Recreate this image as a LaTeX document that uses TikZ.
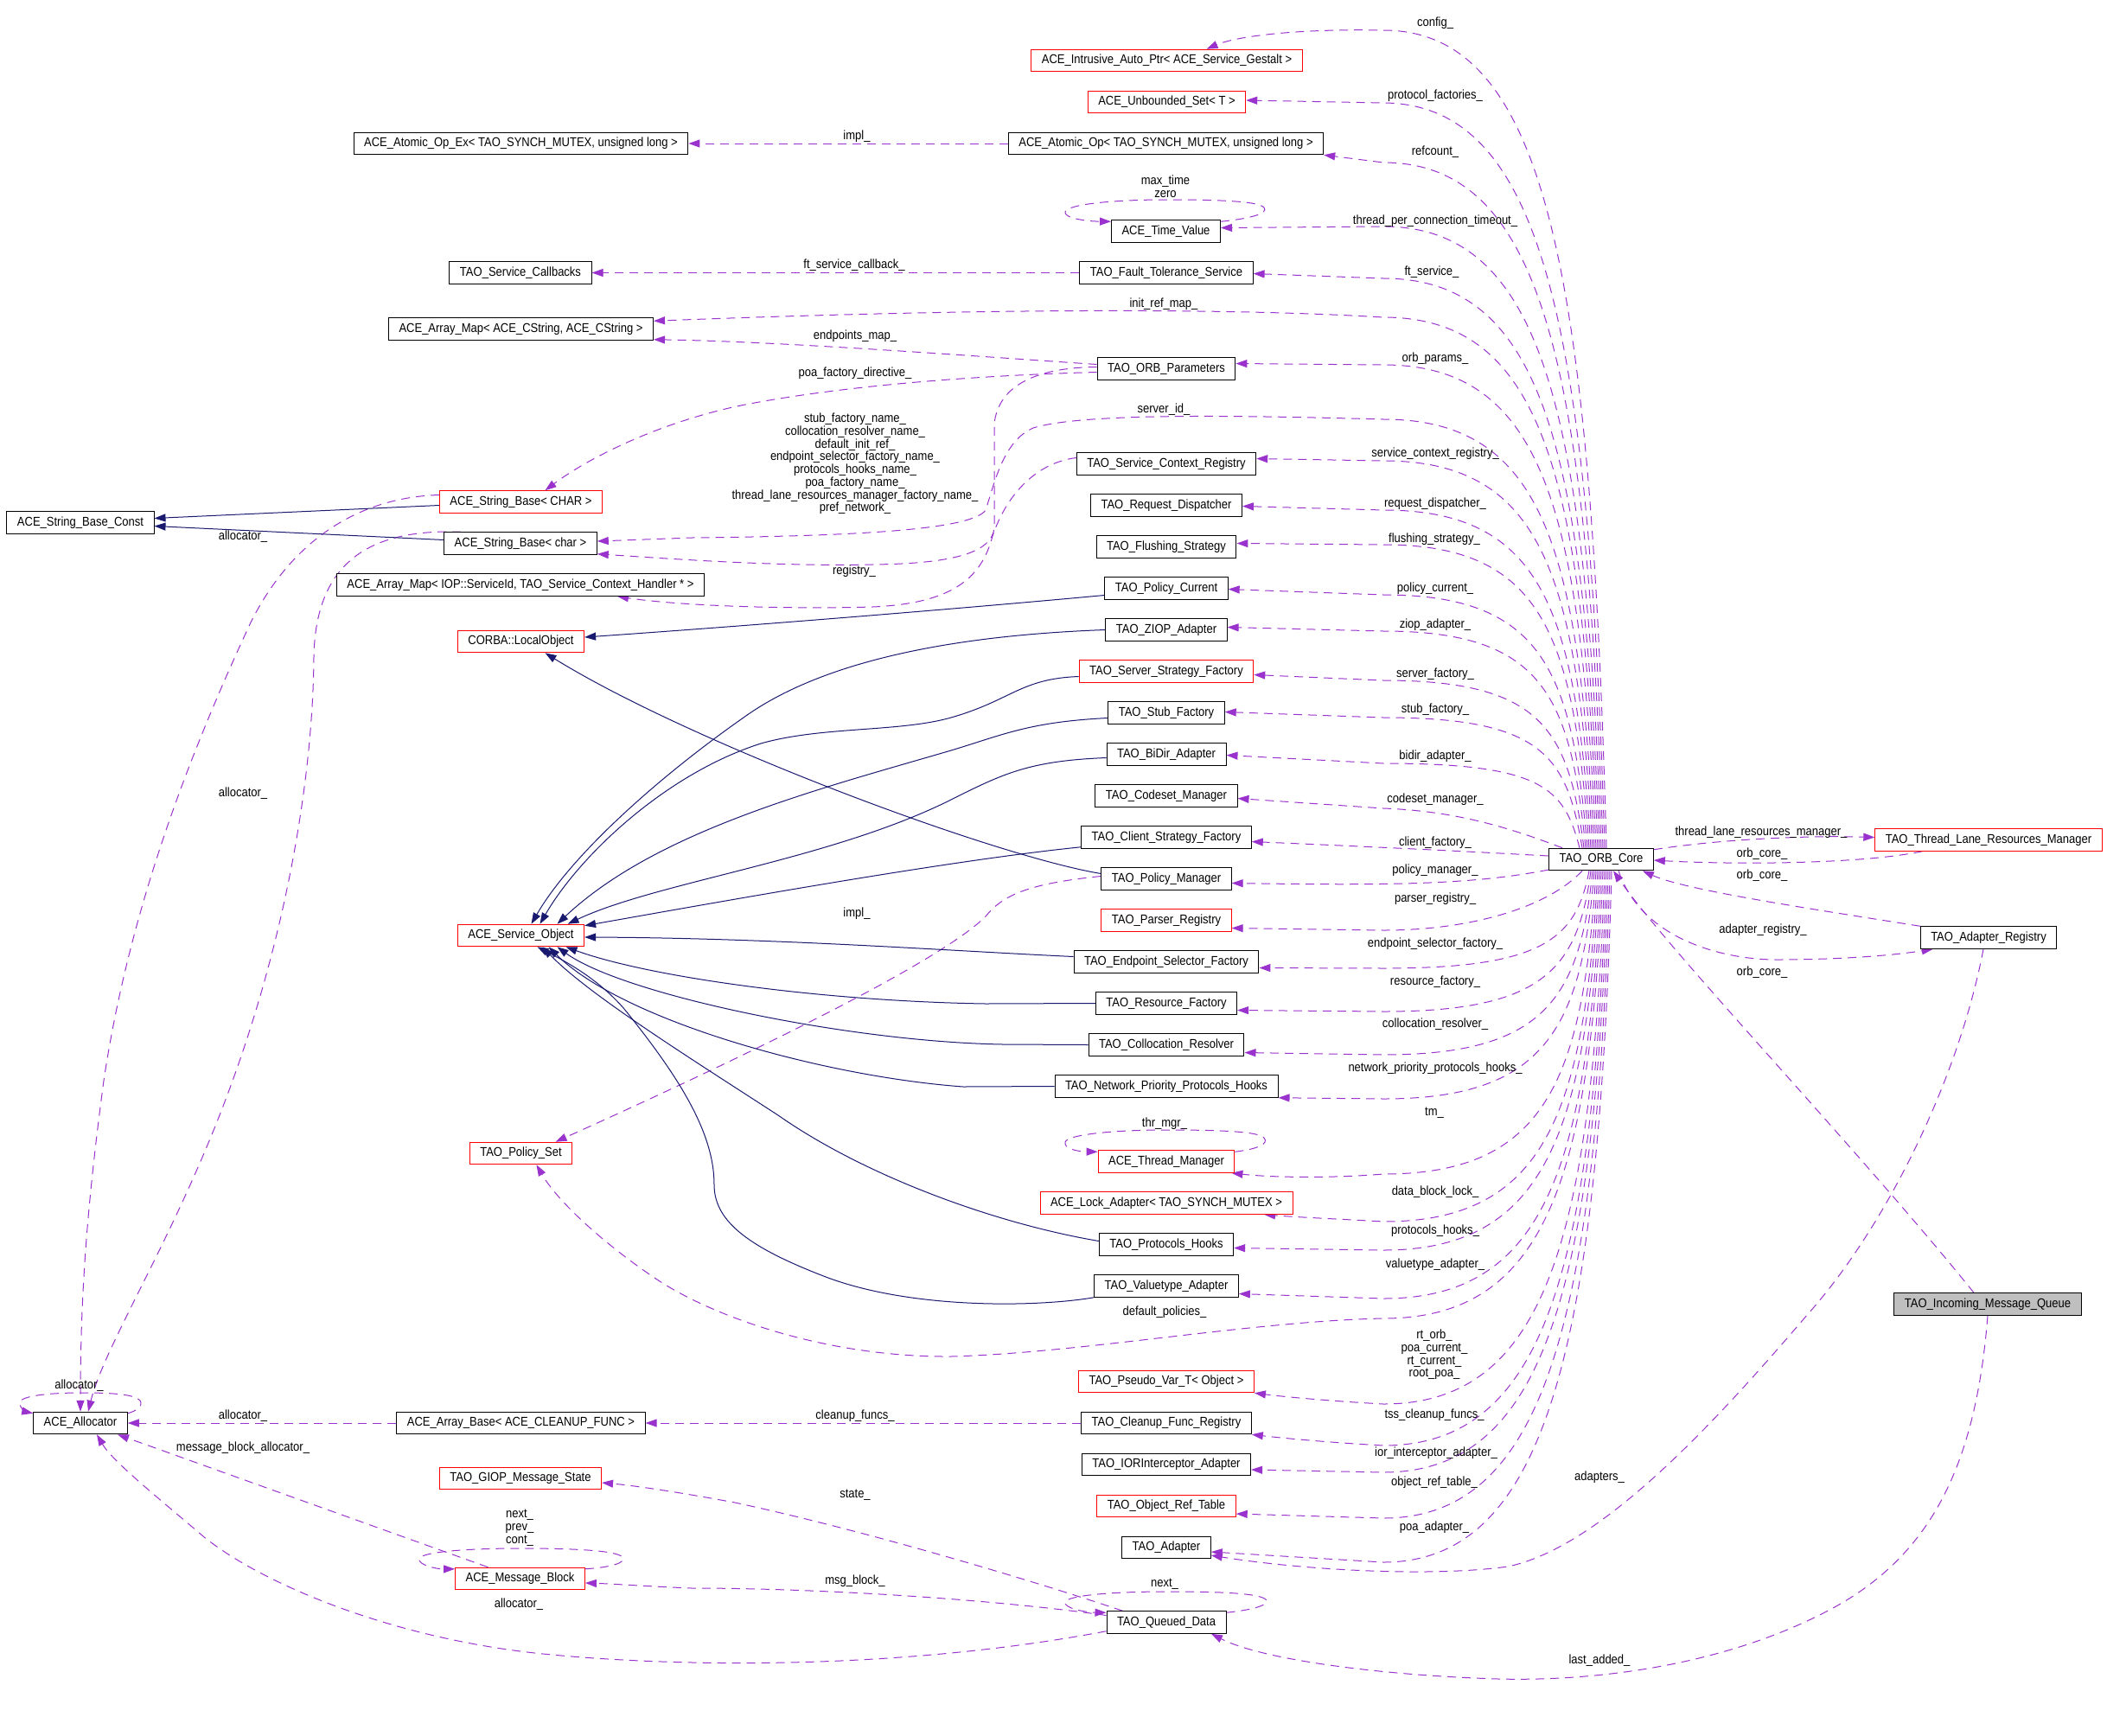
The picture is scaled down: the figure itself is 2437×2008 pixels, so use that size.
\documentclass[tikz,border=0pt]{standalone}
\usepackage{fontspec}
\setmainfont{Liberation Sans}[FakeStretch=0.885]
\usetikzlibrary{arrows.meta,calc}
\definecolor{dcol}{HTML}{9A32CD}
\definecolor{icol}{HTML}{191970}
\definecolor{gfill}{HTML}{BFBFBF}
\newcommand\lbf{\fontsize{14.7}{14.7}\selectfont}
\pgfdeclarelayer{bg}
\pgfsetlayers{bg,main}
\begin{document}
\begin{tikzpicture}[x=1pt,y=-1pt,
  cbox/.style={draw=black,line width=1pt,inner xsep=12pt,inner ysep=0pt,minimum height=25.5pt,font=\lbf,fill=white},
  rbox/.style={cbox,draw=red},
  dep/.style={draw=dcol,line width=1pt,dash pattern=on 10pt off 7pt,-{Triangle[length=13pt,width=9pt]}},
  inh/.style={draw=icol,line width=1pt,-{Triangle[length=13pt,width=9pt]}},
  lbl/.style={font=\lbf,inner sep=0pt,align=center}]
\useasboundingbox (0,0) rectangle (2437,2008);
% ---------------- nodes
\node[rbox] (intr) at (1349.5,70) {ACE\_Intrusive\_Auto\_Ptr< ACE\_Service\_Gestalt >};
\node[rbox] (us) at (1349.5,118) {ACE\_Unbounded\_Set< T >};
\node[cbox] (aop) at (1348.5,166) {ACE\_Atomic\_Op< TAO\_SYNCH\_MUTEX, unsigned long >};
\node[cbox] (aopex) at (602.5,166) {ACE\_Atomic\_Op\_Ex< TAO\_SYNCH\_MUTEX, unsigned long >};
\node[cbox] (tv) at (1348.5,267.5) {ACE\_Time\_Value};
\node[cbox] (scb) at (602,315.5) {TAO\_Service\_Callbacks};
\node[cbox] (fts) at (1349,315.5) {TAO\_Fault\_Tolerance\_Service};
\node[cbox] (amc) at (602.5,380.5) {ACE\_Array\_Map< ACE\_CString, ACE\_CString >};
\node[cbox] (opar) at (1349,426.5) {TAO\_ORB\_Parameters};
\node[cbox] (scr) at (1349,536.5) {TAO\_Service\_Context\_Registry};
\node[rbox] (sbC) at (602.5,580.5) {ACE\_String\_Base< CHAR >};
\node[cbox] (rd) at (1349,584.5) {TAO\_Request\_Dispatcher};
\node[cbox] (sbconst) at (93,604.5) {ACE\_String\_Base\_Const};
\node[cbox] (sbc) at (602,628.5) {ACE\_String\_Base< char >};
\node[cbox] (fs) at (1349,632.5) {TAO\_Flushing\_Strategy};
\node[cbox] (amiop) at (602,676.5) {ACE\_Array\_Map< IOP::ServiceId, TAO\_Service\_Context\_Handler * >};
\node[cbox] (pc) at (1349,680.5) {TAO\_Policy\_Current};
\node[cbox] (ziop) at (1349,728.5) {TAO\_ZIOP\_Adapter};
\node[rbox] (lo) at (602.5,742) {CORBA::LocalObject};
\node[rbox] (ssf) at (1349,776.5) {TAO\_Server\_Strategy\_Factory};
\node[cbox] (stub) at (1349,824.5) {TAO\_Stub\_Factory};
\node[cbox] (bidir) at (1349,872.5) {TAO\_BiDir\_Adapter};
\node[cbox] (cm) at (1349,920.5) {TAO\_Codeset\_Manager};
\node[rbox] (tlrm) at (2300,971.5) {TAO\_Thread\_Lane\_Resources\_Manager};
\node[cbox] (csf) at (1349,968.5) {TAO\_Client\_Strategy\_Factory};
\node[cbox] (orb) at (1852,994) {TAO\_ORB\_Core};
\node[cbox] (pm) at (1349,1016.5) {TAO\_Policy\_Manager};
\node[rbox] (pr) at (1349,1064.5) {TAO\_Parser\_Registry};
\node[rbox] (so) at (602.5,1082) {ACE\_Service\_Object};
\node[cbox] (ar) at (2300,1084.5) {TAO\_Adapter\_Registry};
\node[cbox] (esf) at (1349,1112.5) {TAO\_Endpoint\_Selector\_Factory};
\node[cbox] (rf) at (1349,1160.5) {TAO\_Resource\_Factory};
\node[cbox] (cr) at (1349,1208.5) {TAO\_Collocation\_Resolver};
\node[cbox] (nph) at (1349,1256.5) {TAO\_Network\_Priority\_Protocols\_Hooks};
\node[rbox] (ps) at (602.5,1334) {TAO\_Policy\_Set};
\node[rbox] (thm) at (1349,1343.5) {ACE\_Thread\_Manager};
\node[rbox] (la) at (1349,1391.5) {ACE\_Lock\_Adapter< TAO\_SYNCH\_MUTEX >};
\node[cbox] (ph) at (1349,1439.5) {TAO\_Protocols\_Hooks};
\node[cbox] (va) at (1349,1487.5) {TAO\_Valuetype\_Adapter};
\node[cbox,fill=gfill] (imq) at (2299,1508.5) {TAO\_Incoming\_Message\_Queue};
\node[rbox] (pv) at (1349,1598) {TAO\_Pseudo\_Var\_T< Object >};
\node[cbox] (alloc) at (93,1646) {ACE\_Allocator};
\node[cbox] (ab) at (602.5,1646) {ACE\_Array\_Base< ACE\_CLEANUP\_FUNC >};
\node[cbox] (cfr) at (1349,1646) {TAO\_Cleanup\_Func\_Registry};
\node[cbox] (ior) at (1349,1694) {TAO\_IORInterceptor\_Adapter};
\node[rbox] (gms) at (602,1710) {TAO\_GIOP\_Message\_State};
\node[rbox] (ort) at (1349,1742) {TAO\_Object\_Ref\_Table};
\node[cbox] (ta) at (1349,1790) {TAO\_Adapter};
\node[rbox] (mb) at (601.5,1826) {ACE\_Message\_Block};
\node[cbox] (qd) at (1349,1876.5) {TAO\_Queued\_Data};
% ---------------- labels
\node[lbl] (lcfg) at (1660,27) {config\_};
\node[lbl] (lpf) at (1660,111) {protocol\_factories\_};
\node[lbl] (lrc) at (1660,176) {refcount\_};
\node[lbl] (ltpc) at (1660,256) {thread\_per\_connection\_timeout\_};
\node[lbl] (lfts) at (1656,315) {ft\_service\_};
\node[lbl] (lirm) at (1346,352) {init\_ref\_map\_};
\node[lbl] (lop) at (1660,415) {orb\_params\_};
\node[lbl] (lsid) at (1346,474) {server\_id\_};
\node[lbl] (lscr) at (1660,525) {service\_context\_registry\_};
\node[lbl] (lrd) at (1660,583) {request\_dispatcher\_};
\node[lbl] (lfs) at (1659,624) {flushing\_strategy\_};
\node[lbl] (lpc) at (1660,681) {policy\_current\_};
\node[lbl] (lzp) at (1660,723) {ziop\_adapter\_};
\node[lbl] (lsf) at (1660,780) {server\_factory\_};
\node[lbl] (lstf) at (1660,821) {stub\_factory\_};
\node[lbl] (lbd) at (1660,875) {bidir\_adapter\_};
\node[lbl] (lcm) at (1660,925) {codeset\_manager\_};
\node[lbl] (lcf) at (1660,975) {client\_factory\_};
\node[lbl] (lpm) at (1660,1007) {policy\_manager\_};
\node[lbl] (lpr) at (1660,1040) {parser\_registry\_};
\node[lbl] (lesf) at (1660,1092) {endpoint\_selector\_factory\_};
\node[lbl] (lrf) at (1660,1136) {resource\_factory\_};
\node[lbl] (lcr) at (1660,1185) {collocation\_resolver\_};
\node[lbl] (lnph) at (1660,1236) {network\_priority\_protocols\_hooks\_};
\node[lbl] (ltm) at (1659,1287) {tm\_};
\node[lbl] (ldbl) at (1660,1379) {data\_block\_lock\_};
\node[lbl] (lph) at (1660,1424) {protocols\_hooks\_};
\node[lbl] (lva) at (1660,1463) {valuetype\_adapter\_};
\node[lbl] (ldp) at (1347,1518) {default\_policies\_};
\node[lbl] (lrt) at (1659,1567) {rt\_orb\_\\poa\_current\_\\rt\_current\_\\root\_poa\_};
\node[lbl] (ltss) at (1659,1637) {tss\_cleanup\_funcs\_};
\node[lbl] (lior) at (1661,1681) {ior\_interceptor\_adapter\_};
\node[lbl] (lort) at (1659,1715) {object\_ref\_table\_};
\node[lbl] (lpoa) at (1659,1767) {poa\_adapter\_};
\node[lbl] (lads) at (1850,1709) {adapters\_};
\node[lbl] (lla) at (1850,1921) {last\_added\_};
\node[lbl] (ltlrm) at (2037,963) {thread\_lane\_resources\_manager\_};
\node[lbl] (loc1) at (2038,988) {orb\_core\_};
\node[lbl] (loc2) at (2038,1013) {orb\_core\_};
\node[lbl] (lar) at (2039,1076) {adapter\_registry\_};
\node[lbl] (loc3) at (2038,1125) {orb\_core\_};
\node[lbl] (limpl) at (991,158) {impl\_};
\node[lbl] (lftc) at (988,307) {ft\_service\_callback\_};
\node[lbl] (lem) at (989,389) {endpoints\_map\_};
\node[lbl] (lpfd) at (989,432) {poa\_factory\_directive\_};
\node[lbl] (ltv) at (1348,215.5) {max\_time\\zero};
\node[lbl] (lmulti) at (989,536.5) {stub\_factory\_name\_\\collocation\_resolver\_name\_\\default\_init\_ref\_\\endpoint\_selector\_factory\_name\_\\protocols\_hooks\_name\_\\poa\_factory\_name\_\\thread\_lane\_resources\_manager\_factory\_name\_\\pref\_network\_};
\node[lbl] (lreg) at (988,661) {registry\_};
\node[lbl] (lal1) at (281,621) {allocator\_};
\node[lbl] (lal2) at (281,918) {allocator\_};
\node[lbl] (limpl2) at (991,1057) {impl\_};
\node[lbl] (lthr) at (1347,1300) {thr\_mgr\_};
\node[lbl] (lal3) at (91.5,1603) {allocator\_};
\node[lbl] (lal4) at (281,1638) {allocator\_};
\node[lbl] (lmba) at (281,1675) {message\_block\_allocator\_};
\node[lbl] (lcf2) at (989,1638) {cleanup\_funcs\_};
\node[lbl] (lst) at (989,1729) {state\_};
\node[lbl] (lnpc) at (601,1767) {next\_\\prev\_\\cont\_};
\node[lbl] (lmsg) at (989,1829) {msg\_block\_};
\node[lbl] (lnext) at (1347,1832) {next\_};
\node[lbl] (lal5) at (600,1856) {allocator\_};
% ---------------- edges
\begin{pgfonlayer}{bg}
% ORB top bundle
\draw[dep] ($(orb.north)+(6,0)$) .. controls (1840,319) and (1790,35) .. (1600,35) .. controls (1500,33) and (1430,42) .. ($(intr.north)+(46,0)$);
\draw[dep] ($(orb.north)+(4,0)$) .. controls (1838,378) and (1785,120) .. (1600,119) -- ($(us.east)+(0,-2)$);
\draw[dep] ($(orb.north)+(2,0)$) .. controls (1836,426) and (1785,188) .. (1600,188) -- (aop.south east);
\draw[dep] ($(orb.north)+(0,0)$) .. controls (1834,478) and (1785,262) .. (1600,262) -- ($(tv.east)+(0,-4)$);
\draw[dep] ($(orb.north)+(-2,0)$) .. controls (1832,520) and (1785,322) .. (1600,322) -- ($(fts.east)+(0,1)$);
\draw[dep] ($(orb.north)+(-4,0)$) .. controls (1830,551) and (1785,367) .. (1600,367) .. controls (1400,355) and (1100,358) .. ($(amc.north east)+(0,4)$);
\draw[dep] ($(orb.north)+(-6,0)$) .. controls (1828,590) and (1785,422) .. (1600,422) -- ($(opar.east)+(0,-6)$);
\draw[dep] ($(orb.north)+(-8,0)$) .. controls (1826,634) and (1785,485) .. (1600,485) .. controls (1420,480) and (1250,478) .. (1195,495) .. controls (1160,510) and (1150,560) .. (1140,590) .. controls (1125,612) and (1000,620) .. (800,622) -- ($(sbc.east)+(0,-2.5)$);
\draw[dep] ($(orb.north)+(-10,0)$) .. controls (1824,667) and (1785,533) .. (1600,533) -- ($(scr.east)+(0,-6)$);
\draw[dep] ($(orb.north)+(-12,0)$) .. controls (1822,707) and (1785,590) .. (1600,590) -- ($(rd.east)+(0,1)$);
\draw[dep] ($(orb.north)+(-14,0)$) .. controls (1820,735) and (1785,630) .. (1600,630) -- ($(fs.east)+(0,-4)$);
\draw[dep] ($(orb.north)+(-16,0)$) .. controls (1818,776) and (1785,688) .. (1600,688) -- ($(pc.east)+(0,1)$);
\draw[dep] ($(orb.north)+(-18,0)$) .. controls (1816,805) and (1785,730) .. (1600,730) -- ($(ziop.east)+(0,-3)$);
\draw[dep] ($(orb.north)+(-20,0)$) .. controls (1814,845) and (1785,787) .. (1600,787) -- ($(ssf.east)+(0,4)$);
\draw[dep] ($(orb.north)+(-22,0)$) .. controls (1812,875) and (1785,830) .. (1600,830) -- ($(stub.east)+(0,-1)$);
\draw[dep] ($(orb.north)+(-25,0)$) .. controls (1809,912) and (1785,883) .. (1600,883) -- ($(bidir.east)+(0,1)$);
\draw[dep] ($(orb.north)+(-45,0)$) .. controls (1740,955) and (1680,938) .. (1600,935) -- ($(cm.east)+(0,3)$);
\draw[dep] ($(orb.west)+(0,-4)$) .. controls (1700,985) and (1600,980) .. ($(csf.east)+(0,5)$);
\draw[dep] ($(orb.west)+(0,12)$) .. controls (1700,1024) and (1600,1024) .. ($(pm.east)+(0,5)$);
\draw[dep] ($(orb.south)+(-22,0)$) .. controls (1790,1050) and (1700,1076) .. (1600,1076) -- ($(pr.east)+(0,9)$);
% ORB bottom bundle
\draw[dep] ($(orb.south)+(-14,0)$) .. controls (1823,1086) and (1785,1120) .. (1600,1120) -- ($(esf.east)+(0,7)$);
\draw[dep] ($(orb.south)+(-12,0)$) .. controls (1825,1121) and (1785,1170) .. (1600,1170) -- ($(rf.east)+(0,8)$);
\draw[dep] ($(orb.south)+(-10,0)$) .. controls (1827,1156) and (1785,1220) .. (1600,1220) -- ($(cr.east)+(0,9)$);
\draw[dep] ($(orb.south)+(-8,0)$) .. controls (1829,1192) and (1785,1271) .. (1600,1271) -- (nph.south east);
\draw[dep] ($(orb.south)+(-6,0)$) .. controls (1831,1253) and (1785,1358) .. (1600,1358) .. controls (1540,1363) and (1470,1362) .. ($(thm.south east)+(-4,0)$);
\draw[dep] ($(orb.south)+(-4,0)$) .. controls (1833,1291) and (1785,1413) .. (1600,1413) .. controls (1550,1410) and (1500,1408) .. ($(la.south)+(113,0)$);
\draw[dep] ($(orb.south)+(-2,0)$) .. controls (1835,1314) and (1785,1446) .. (1600,1446) -- ($(ph.east)+(0,4)$);
\draw[dep] ($(orb.south)+(0,0)$) .. controls (1837,1353) and (1785,1502) .. (1600,1502) -- ($(va.east)+(0,9)$);
\draw[dep] ($(orb.south)+(2,0)$) .. controls (1839,1370) and (1785,1525) .. (1600,1525) .. controls (1450,1528) and (1250,1565) .. (1100,1569) .. controls (950,1570) and (820,1520) .. (760,1480) .. controls (700,1440) and (645,1390) .. ($(ps.south)+(18,0)$);
\draw[dep] ($(orb.south)+(4,0)$) .. controls (1841,1439) and (1785,1624) .. (1600,1624) .. controls (1530,1620) and (1480,1615) .. (pv.south east);
\draw[dep] ($(orb.south)+(6,0)$) .. controls (1843,1472) and (1785,1672) .. (1600,1672) .. controls (1530,1668) and (1480,1663) .. (cfr.south east);
\draw[dep] ($(orb.south)+(8,0)$) .. controls (1845,1494) and (1785,1703) .. (1600,1703) -- ($(ior.east)+(0,6)$);
\draw[dep] ($(orb.south)+(10,0)$) .. controls (1847,1531) and (1785,1756) .. (1600,1756) -- ($(ort.east)+(0,9)$);
\draw[dep] ($(orb.south)+(12,0)$) .. controls (1849,1567) and (1785,1807) .. (1600,1807) -- ($(ta.east)+(0,5)$);
% right side
\draw[dep] ($(orb.north east)+(0,2)$) .. controls (1980,972) and (2080,966) .. ($(tlrm.west)+(0,-3)$);
\draw[dep] ($(tlrm.south west)+(55,0)$) .. controls (2150,1000) and (2000,1000) .. ($(orb.east)+(0,1)$);
\draw[dep] ($(orb.south)+(20,0)$) .. controls (1900,1090) and (2000,1110) .. (2054,1110) .. controls (2130,1110) and (2190,1105) .. ($(ar.south west)+(15,0)$);
\draw[dep] (ar.north west) .. controls (2100,1052) and (1950,1030) .. ($(orb.south east)+(-13,0)$);
\draw[dep] ($(imq.north)+(-16,0)$) .. controls (2150,1330) and (1930,1100) .. ($(orb.south)+(14,0)$);
\draw[dep] ($(ar.south)+(-6,0)$) .. controls (2265,1250) and (2180,1420) .. (2091,1520) .. controls (1980,1650) and (1850,1790) .. (1744,1812) .. controls (1650,1825) and (1500,1815) .. ($(ta.east)+(0,9)$);
\draw[dep] (imq.south) .. controls (2285,1700) and (2230,1800) .. (2120,1860) .. controls (2000,1925) and (1850,1945) .. (1733,1942) .. controls (1600,1938) and (1460,1920) .. ($(qd.south)+(52,0)$);
% left / middle
\draw[dep] (aop.west) -- (aopex.east);
\draw[dep] (fts.west) -- (scb.east);
\draw[dep] ($(opar.west)+(0,-5)$) .. controls (1100,410) and (900,395) .. ($(amc.south east)+(0,-1)$);
\draw[dep] ($(opar.west)+(0,4)$) .. controls (1100,435) and (950,450) .. (852,470) .. controls (760,490) and (680,530) .. ($(sbC.north)+(28,0)$);
\draw[dep] ($(opar.west)+(0,-2)$) .. controls (1200,425) and (1155,445) .. (1150,490) -- (1150,610) .. controls (1148,640) and (1100,652) .. (1009,653) .. controls (900,655) and (800,648) .. ($(sbc.south east)+(0,-1)$);
\draw[dep] ($(scr.west)+(0,-7)$) .. controls (1200,535) and (1165,570) .. (1148,620) .. controls (1135,670) and (1100,698) .. (1009,702) .. controls (900,705) and (780,700) .. ($(amiop.south)+(112,0)$);
\draw[dep] ($(pm.west)+(0,-3)$) .. controls (1190,1022) and (1160,1035) .. (1140,1060) .. controls (1080,1120) and (800,1250) .. ($(ps.north)+(40,0)$);
\draw[dep] ($(sbC.west)+(0,-8)$) .. controls (420,575) and (340,620) .. (290,720) .. controls (220,870) and (150,1050) .. (120,1250) .. controls (100,1400) and (93,1500) .. (alloc.north);
\draw[dep] ($(sbc.north)+(-69,0)$) .. controls (440,612) and (365,640) .. (363,760) .. controls (362,900) and (330,1100) .. (250,1300) .. controls (190,1450) and (120,1560) .. ($(alloc.north)+(9,0)$);
\draw[dep] (ab.west) -- (alloc.east);
\draw[dep] ($(mb.north)+(-37,0)$) -- ($(alloc.south)+(43,0)$);
\draw[dep] ($(qd.south west)+(0,-3)$) .. controls (1050,1930) and (800,1930) .. (628,1913) .. controls (450,1895) and (300,1830) .. (235,1777) .. controls (180,1730) and (130,1690) .. ($(alloc.south)+(19,0)$);
\draw[dep] (cfr.west) -- (ab.east);
\draw[dep] ($(qd.north west)+(19,0)$) .. controls (1200,1830) and (1000,1770) .. (850,1738) .. controls (780,1725) and (730,1718) .. ($(gms.east)+(0,5)$);
\draw[dep] ($(qd.west)+(0,-8)$) .. controls (1150,1850) and (950,1837) .. (800,1837) .. controls (750,1835) and (710,1832) .. ($(mb.east)+(0,5)$);
% self loops
\draw[dep] ($(tv.north east)+(0,2)$) .. controls (1445,253) and (1468,247) .. (1462,240) .. controls (1455,232) and (1400,231) .. (1349,231) .. controls (1290,231) and (1235,236) .. (1232,245) .. controls (1230,252) and (1255,256) .. ($(tv.north west)+(0,2)$);
\draw[dep] ($(thm.north east)+(0,2)$) .. controls (1455,1329) and (1468,1323) .. (1462,1316) .. controls (1455,1308) and (1400,1307) .. (1349,1307) .. controls (1290,1307) and (1235,1312) .. (1232,1321) .. controls (1230,1328) and (1245,1332) .. ($(thm.north west)+(0,2)$);
\draw[dep] ($(qd.north east)+(0,2)$) .. controls (1450,1862) and (1470,1856) .. (1464,1850) .. controls (1455,1842) and (1400,1841) .. (1349,1841) .. controls (1290,1841) and (1235,1845) .. (1232,1853) .. controls (1230,1860) and (1255,1865) .. ($(qd.north west)+(0,2)$);
\draw[dep] ($(mb.north east)+(0,2)$) .. controls (705,1813) and (725,1808) .. (720,1801) .. controls (712,1793) and (660,1791) .. (601,1791) .. controls (540,1791) and (487,1795) .. (485,1803) .. controls (483,1810) and (505,1815) .. ($(mb.north west)+(0,2)$);
\draw[dep] ($(alloc.north east)+(0,2)$) .. controls (158,1632) and (166,1626) .. (162,1620) .. controls (155,1612) and (125,1611) .. (94,1611) .. controls (60,1611) and (25,1614) .. (23,1622) .. controls (22,1628) and (30,1633) .. ($(alloc.north west)+(0,2)$);
% inheritance
\draw[inh] ($(sbC.west)+(0,4)$) -- ($(sbconst.east)+(0,-5)$);
\draw[inh] ($(sbc.west)+(0,-4)$) -- ($(sbconst.east)+(0,4)$);
\draw[inh] ($(pc.west)+(0,8)$) .. controls (1100,705) and (850,725) .. ($(lo.east)+(0,-5)$);
\draw[inh] ($(pm.west)+(0,-6)$) .. controls (1150,990) and (800,860) .. ($(lo.south)+(28,0)$);
\draw[inh] (ziop.west) .. controls (1100,735) and (950,765) .. (860,830) .. controls (760,900) and (660,990) .. ($(so.north)+(12,0)$);
\draw[inh] ($(ssf.west)+(0,6)$) .. controls (1180,785) and (1170,810) .. (1100,830) .. controls (1040,847) and (950,840) .. (880,860) .. controls (770,895) and (670,990) .. ($(so.north)+(22,0)$);
\draw[inh] ($(stub.west)+(0,6)$) .. controls (1190,835) and (1160,850) .. (1100,868) .. controls (950,912) and (760,960) .. ($(so.north)+(42,0)$);
\draw[inh] ($(bidir.west)+(0,4)$) .. controls (1190,880) and (1160,895) .. (1100,925) .. controls (960,995) and (760,1020) .. ($(so.north)+(54,0)$);
\draw[inh] ($(csf.south west)+(0,-2)$) .. controls (1100,995) and (850,1040) .. ($(so.north east)+(0,2)$);
\draw[inh] ($(esf.west)+(0,-6)$) .. controls (1100,1100) and (900,1085) .. ($(so.east)+(0,2)$);
\draw[inh] (rf.west) -- (1140,1161) .. controls (950,1158) and (750,1130) .. ($(so.south)+(52,0)$);
\draw[inh] (cr.west) -- (1160,1208) .. controls (980,1205) and (720,1150) .. ($(so.south)+(42,0)$);
\draw[inh] (nph.west) -- (1114,1257) .. controls (950,1245) and (720,1180) .. ($(so.south)+(32,0)$);
\draw[inh] ($(ph.west)+(0,-4)$) .. controls (1150,1415) and (1000,1360) .. (900,1290) .. controls (800,1225) and (680,1150) .. ($(so.south)+(25,0)$);
\draw[inh] (va.south west) .. controls (1200,1512) and (1050,1515) .. (950,1475) .. controls (860,1440) and (826,1410) .. (826,1370) .. controls (826,1310) and (785,1245) .. (722,1167) .. controls (690,1130) and (650,1110) .. ($(so.south)+(19,0)$);
\end{pgfonlayer}
\end{tikzpicture}
\end{document}
